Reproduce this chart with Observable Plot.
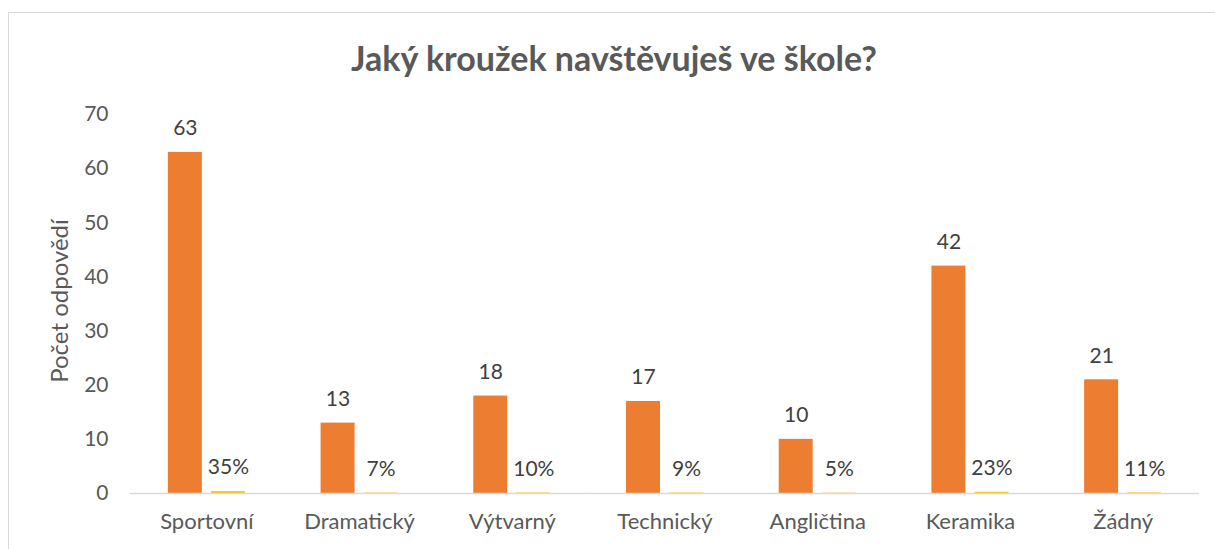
<!DOCTYPE html>
<html>
<head>
<meta charset="utf-8">
<script src="https://cdn.jsdelivr.net/npm/d3@7"></script>
<script src="https://cdn.jsdelivr.net/npm/@observablehq/plot@0.6"></script>
<style>
  html, body { margin: 0; padding: 0; background: #fff; width: 1215px; height: 549px; overflow: hidden; }
  #frame { position: absolute; left: 8px; top: 12px; width: 1260px; height: 600px; border: 1.5px solid #d9d9d9; box-sizing: border-box; }
  #title { position: absolute; left: 0; top: 36px; width: 1228px; text-align: center; font-family: Lato, sans-serif; font-weight: bold; font-size: 34px; color: #595959; line-height: 44px; }
  #ytitle { position: absolute; left: 58px; top: 301px; transform: translate(-50%, -50%) rotate(-90deg); font-family: Lato, sans-serif; font-size: 24px; color: #595959; white-space: nowrap; }
  #chart { position: absolute; left: 0; top: 90px; }
</style>
</head>
<body>
<div id="frame"></div>
<div id="title">Jaký kroužek navštěvuješ ve škole?</div>
<div id="chart"></div>
<div id="ytitle"></div>
<script>
const categories = ["Sportovní", "Dramatický", "Výtvarný", "Technický", "Angličtina", "Keramika", "Žádný"];
const counts = [63, 13, 18, 17, 10, 42, 21];
const shares = [0.35, 0.07, 0.10, 0.09, 0.05, 0.23, 0.11];
const seriesNames = ["Počet", "Podíl"];
const seriesColors = ["#ED7D31", "#FFC000"];
const yTicks = [0, 10, 20, 30, 40, 50, 60, 70];
const yTitle = "Počet odpovědí";

document.getElementById("ytitle").textContent = yTitle;

const data = categories.flatMap((c, i) => [
  {cat: c, series: seriesNames[0], value: counts[i], label: String(counts[i])},
  {cat: c, series: seriesNames[1], value: shares[i], label: Math.round(shares[i] * 100) + "%"}
]);

const chart = Plot.plot({
  width: 1215,
  height: 459,
  marginTop: 24,
  marginBottom: 56,
  marginLeft: 130,
  marginRight: 16,
  style: {fontFamily: "Lato, sans-serif", fontSize: "21px", color: "#595959", background: "transparent"},
  fx: {domain: categories, padding: 0, round: false},
  x: {domain: seriesNames, paddingInner: 0.21, paddingOuter: 0.88, round: false, axis: null},
  y: {domain: [0, 70]},
  color: {domain: seriesNames, range: seriesColors},
  marks: [
    Plot.axisY({ticks: yTicks, tickSize: 0, tickPadding: 22, label: null}),
    Plot.axisFx({anchor: "bottom", tickSize: 0, tickPadding: 20, label: null, fontSize: 22}),
    Plot.barY(data, {fx: "cat", x: "series", y: "value", fill: "series"}),
    Plot.ruleY([0], {stroke: "#d9d9d9", strokeWidth: 1.5}),
    Plot.text(data, {fx: "cat", x: "series", y: "value", text: "label", dy: -24, fill: "#404040", fontSize: 21})
  ]
});
document.getElementById("chart").appendChild(chart);
</script>
</body>
</html>
